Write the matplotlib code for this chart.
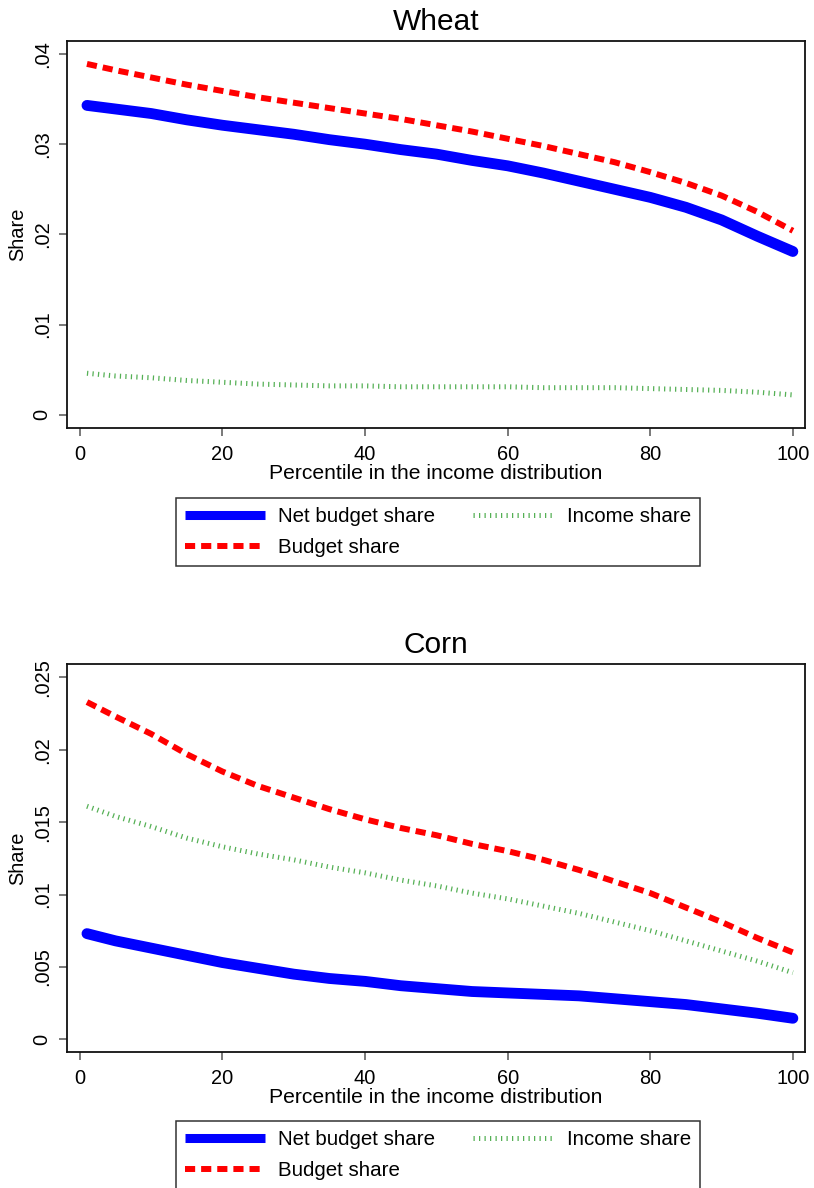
import matplotlib
matplotlib.use("Agg")
import matplotlib.pyplot as plt
from matplotlib.lines import Line2D

plt.rcParams['font.family'] = ['Liberation Sans', 'DejaVu Sans']

# ---- data ----
pct = [1, 5, 10, 15, 20, 25, 30, 35, 40, 45, 50, 55, 60, 65, 70, 75, 80, 85, 90, 95, 100]

wheat_net = [0.0343, 0.0339, 0.0334, 0.0327, 0.0321, 0.0316, 0.0311, 0.0305, 0.0300, 0.0294,
             0.0289, 0.0282, 0.0276, 0.0268, 0.0259, 0.0250, 0.0241, 0.0230, 0.0216, 0.0198, 0.0181]
wheat_budget = [0.0389, 0.0382, 0.0374, 0.0366, 0.0359, 0.0352, 0.0346, 0.0340, 0.0334, 0.0328,
                0.0321, 0.0314, 0.0306, 0.0298, 0.0289, 0.0280, 0.0269, 0.0257, 0.0243, 0.0225, 0.0204]
wheat_income = [0.0046, 0.0043, 0.0041, 0.0038, 0.0036, 0.0034, 0.0033, 0.0032, 0.0032, 0.0031,
                0.0031, 0.0031, 0.0031, 0.0030, 0.0030, 0.0030, 0.0029, 0.0028, 0.0027, 0.0025, 0.0022]

corn_net = [0.0073, 0.0068, 0.0063, 0.0058, 0.0053, 0.0049, 0.0045, 0.0042, 0.0040, 0.0037,
            0.0035, 0.0033, 0.0032, 0.0031, 0.0030, 0.0028, 0.0026, 0.0024, 0.0021, 0.0018, 0.00145]
corn_budget = [0.0233, 0.0223, 0.0211, 0.0197, 0.0185, 0.0175, 0.0167, 0.0159, 0.0152, 0.0146,
               0.0141, 0.0135, 0.0130, 0.0124, 0.0117, 0.0109, 0.0101, 0.0091, 0.0081, 0.0070, 0.0060]
corn_income = [0.0161, 0.0154, 0.0147, 0.0139, 0.0133, 0.0128, 0.0124, 0.0119, 0.0115, 0.0110,
               0.0106, 0.0101, 0.0097, 0.0092, 0.0087, 0.0081, 0.0075, 0.0068, 0.0061, 0.0054, 0.0046]

xticks = [0, 20, 40, 60, 80, 100]
wheat_yticks = [0, 0.01, 0.02, 0.03, 0.04]
wheat_ylabels = ['0', '.01', '.02', '.03', '.04']
corn_yticks = [0, 0.005, 0.01, 0.015, 0.02, 0.025]
corn_ylabels = ['0', '.005', '.01', '.015', '.02', '.025']

labels = ['Net budget share', 'Budget share', 'Income share']

# ---- styles ----
NET = dict(color='#0000ff', lw=7.8, solid_capstyle='round', solid_joinstyle='round')
BUD = dict(color='#ff0000', lw=4.3, linestyle=(0, (1.7, 1.0)), dash_capstyle='butt')
INC = dict(color='#55b055', lw=3.6, linestyle=(0, (0.25, 0.85)), dash_capstyle='butt')

fig = plt.figure(figsize=(8.14, 11.88), dpi=100)
ax1 = fig.add_axes([67/814, 1 - 428/1188, (805 - 67)/814, (428 - 41)/1188])
ax2 = fig.add_axes([67/814, 1 - 1052/1188, (805 - 67)/814, (1052 - 664)/1188])


def style(ax, title, yt, yl, ylim):
    ax.set_xlim(-1.8, 101.7)
    ax.set_ylim(*ylim)
    ax.set_xticks(xticks)
    ax.set_xticklabels([str(t) for t in xticks], fontsize=14.4)
    ax.set_yticks(yt)
    ax.set_yticklabels(yl, fontsize=14.4, rotation=90, va='center')
    ax.tick_params(direction='out', length=6, width=1.1, color='#555555')
    ax.tick_params(axis='x', pad=6)
    ax.tick_params(axis='y', pad=5)
    for s in ax.spines.values():
        s.set_linewidth(1.3)
        s.set_color('#111111')
    ax.set_title(title, fontsize=21.5, pad=8)
    ax.set_xlabel('Percentile in the income distribution', fontsize=15.2, labelpad=0)
    ax.set_ylabel('Share', fontsize=14.4, labelpad=4)


ax1.plot(pct, wheat_income, **INC)
ax1.plot(pct, wheat_budget, **BUD)
ax1.plot(pct, wheat_net, **NET)
style(ax1, 'Wheat', wheat_yticks, wheat_ylabels, (-0.00147, 0.04144))

ax2.plot(pct, corn_income, **INC)
ax2.plot(pct, corn_budget, **BUD)
ax2.plot(pct, corn_net, **NET)
style(ax2, 'Corn', corn_yticks, corn_ylabels, (-0.00088, 0.02593))

handles = [
    Line2D([], [], color='#0000ff', lw=6.5, solid_capstyle='butt'),
    Line2D([], [], color='#ff0000', lw=4.3, linestyle=(0, (1.7, 1.0))),
    Line2D([], [], color='#55b055', lw=3.6, linestyle=(0, (0.25, 0.85))),
]

for ytop in (1 - 498/1188, 1 - 1121/1188):
    leg = fig.legend(handles, labels, loc='upper center', bbox_to_anchor=(438/814, ytop),
                     ncol=2, fontsize=14.8, frameon=True, fancybox=False, edgecolor='black',
                     borderaxespad=0, handlelength=3.9, handletextpad=0.65, columnspacing=1.85,
                     labelspacing=0.58, borderpad=0.45)
    leg.get_frame().set_linewidth(1.1)

fig.savefig('out.png', dpi=100, facecolor='white')
